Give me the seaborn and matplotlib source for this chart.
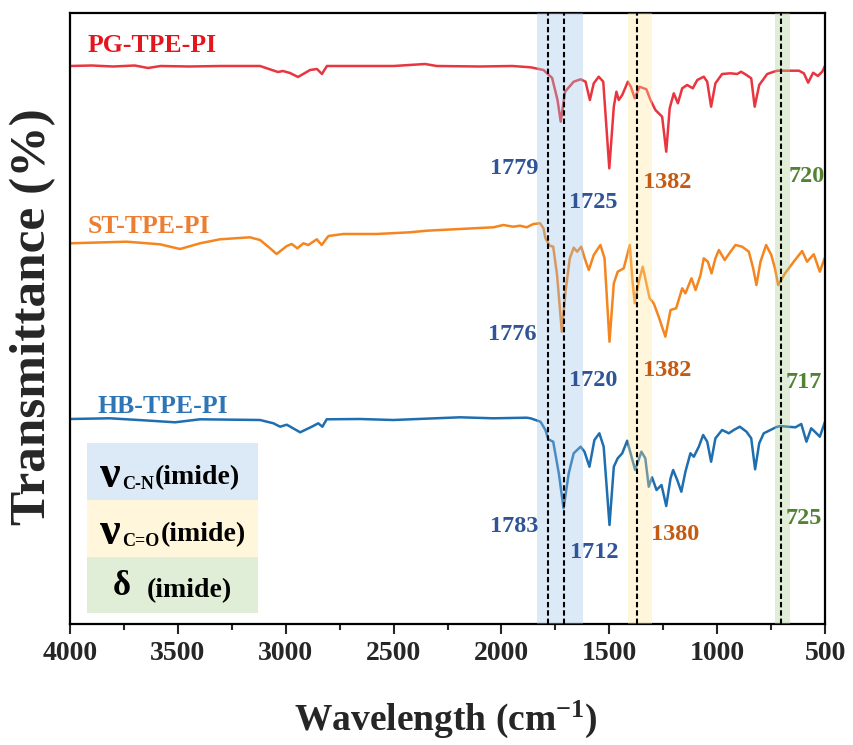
import numpy as np
import pandas as pd
import matplotlib
matplotlib.use("Agg")
import matplotlib.pyplot as plt
from matplotlib.patches import Rectangle
from matplotlib.ticker import MultipleLocator
import seaborn as sns

# ---------------- FTIR spectra (offset transmittance, a.u.) ----------------
pg_wn = [4000, 3900, 3800, 3700, 3638, 3580, 3450, 3300, 3119, 3036, 3013, 2980,
         2943, 2887, 2855, 2832, 2809, 2700, 2500, 2354, 2300, 2100, 1950, 1865,
         1805, 1765, 1740, 1725, 1705, 1665, 1633, 1610, 1590, 1572, 1549, 1528,
         1500, 1479, 1467, 1456, 1440, 1414, 1400, 1382, 1360, 1328, 1309, 1286,
         1255, 1236, 1220, 1201, 1182, 1162, 1139, 1113, 1092, 1062, 1046, 1028,
         1008, 977, 938, 907, 889, 864, 842, 826, 805, 768, 737, 720, 660, 621,
         598, 578, 555, 533, 513, 500]
pg_t = [558, 558.5, 557.5, 558.5, 556, 558, 557.5, 558, 558, 552, 553, 551,
        547, 554, 555, 550, 558, 558, 558, 560, 558, 557.5, 558, 556.7,
        554, 546, 524, 502.3, 532.3, 542.3, 544.7, 542.3, 524, 540.7, 547.3, 542.3,
        455.7, 517.3, 532.3, 524, 529, 542.3, 537.3, 525.7, 537.3, 534.7, 524, 514,
        507.3, 472.3, 515.7, 530.7, 520.7, 535.7, 539, 535.7, 544, 547.3, 542.3, 517.3,
        540.7, 550, 550.7, 550, 552.3, 549, 545.7, 517.3, 539, 550, 552.3, 553.3, 553.3, 553.3,
        550.7, 541.3, 551.3, 548, 552.3, 558]

st_wn = [4000, 3737, 3583, 3490, 3397, 3305, 3166, 3119, 3081, 3042, 2995, 2972,
         2946, 2918, 2895, 2856, 2833, 2802, 2733, 2578, 2424, 2346, 2192, 2037,
         1991, 1945, 1914, 1883, 1852, 1821, 1805, 1796, 1776, 1760, 1742, 1720,
         1703, 1683, 1665, 1649, 1630, 1614, 1595, 1572, 1541, 1522, 1499, 1479,
         1461, 1433, 1405, 1392, 1382, 1365, 1345, 1313, 1294, 1271, 1240, 1216,
         1190, 1162, 1147, 1119, 1100, 1077, 1062, 1043, 1026, 1008, 992, 965,
         938, 915, 884, 853, 833, 818, 799, 773, 749, 732, 717, 685, 645, 606,
         583, 552, 524, 502, 500]
st_t = [380.7, 382.3, 379.7, 375, 380.7, 384.7, 386.7, 384, 377.3, 370, 378, 380,
        375.7, 380.7, 379, 384.7, 379, 388, 390, 390, 391.7, 393.3, 395, 396.7,
        399, 397.3, 398.3, 396.7, 400, 400.7, 395.7, 385.7, 378.3, 377.3, 349, 292.3,
        332.3, 365.7, 376.3, 372.3, 377.3, 365.7, 354, 369, 379, 365.7, 282.3, 340.7,
        352.3, 355.7, 379, 342.3, 320.7, 340.7, 357.3, 325.7, 320.7, 307.3, 287.3, 314,
        315.7, 335.7, 330.7, 345.7, 334, 349, 365.7, 362.3, 350.7, 365.7, 374, 364,
        372.3, 379, 377.3, 372.3, 355.7, 339, 362.3, 379, 369, 355.7, 339, 350.7, 362.3, 373,
        362.3, 369.7, 352.3, 365.7, 366]

hb_wn = [4000, 3815, 3629, 3513, 3397, 3119, 3057, 3026, 2995, 2933, 2879, 2849,
         2830, 2810, 2656, 2501, 2192, 2037, 1883, 1865, 1819, 1796, 1783, 1760,
         1734, 1712, 1688, 1665, 1633, 1615, 1592, 1569, 1546, 1526, 1499, 1479,
         1461, 1440, 1417, 1397, 1380, 1351, 1333, 1317, 1302, 1281, 1258, 1236,
         1216, 1204, 1185, 1166, 1147, 1124, 1108, 1085, 1065, 1046, 1028, 1008,
         977, 946, 923, 895, 864, 842, 824, 805, 784, 753, 725, 706, 675, 637,
         610, 586, 564, 547, 524, 500]
hb_t = [205, 205.7, 203.3, 201.7, 204.7, 204, 200.7, 197.3, 199.3, 191.7, 197.3, 200.7,
        197.3, 204.7, 205, 204, 206.7, 205.7, 206.3, 205.7, 202.3, 194, 184.7, 182.3,
        150.7, 115.7, 150.7, 170.7, 177.3, 172.3, 157.3, 184, 190.7, 177.3, 99, 157.3,
        165.7, 170.7, 183.3, 167.3, 154, 172.3, 165.7, 137.3, 146.7, 134, 139, 118,
        145.7, 154, 144, 132.3, 152.3, 170.7, 167.3, 177.3, 189, 182.3, 162.3, 185.7,
        194, 190.7, 194, 197.3, 192.3, 185.7, 154.7, 180.7, 190.7, 194, 197, 198, 197.3, 196.7,
        200, 182.3, 195.7, 192.3, 187.3, 202.3]

samples = ["PG-TPE-PI", "ST-TPE-PI", "HB-TPE-PI"]
line_colors = {"PG-TPE-PI": "#E8353F", "ST-TPE-PI": "#F5851F", "HB-TPE-PI": "#1F6EB0"}
label_colors = {"PG-TPE-PI": "#E3161E", "ST-TPE-PI": "#ED7D31", "HB-TPE-PI": "#2E75B6"}

# reference positions of the imide bands
guide_lines = [1785, 1710, 1370, 703]
bands = [(1833, 1620), (1411, 1300), (733, 662)]
band_colors = ["#9BC2E6", "#FFE699", "#A9D08E"]

# peak annotations: (text, colour, x, y)
c_cn, c_co, c_d = "#2F5597", "#C55A11", "#548235"
peak_labels = [
    ("1779", c_cn, 1942, 456), ("1725", c_cn, 1575, 422),
    ("1382", c_co, 1232, 442), ("720", c_d, 583, 447),
    ("1776", c_cn, 1951, 289), ("1720", c_cn, 1575, 244),
    ("1382", c_co, 1232, 254), ("717", c_d, 597, 242),
    ("1783", c_cn, 1942, 97), ("1712", c_cn, 1571, 71),
    ("1380", c_co, 1195, 89), ("725", c_d, 597, 106),
]

df = pd.concat([
    pd.DataFrame({"wavenumber": pg_wn, "transmittance": pg_t, "sample": "PG-TPE-PI"}),
    pd.DataFrame({"wavenumber": st_wn, "transmittance": st_t, "sample": "ST-TPE-PI"}),
    pd.DataFrame({"wavenumber": hb_wn, "transmittance": hb_t, "sample": "HB-TPE-PI"}),
], ignore_index=True)

sns.set_style("ticks")
plt.rcParams["font.family"] = ["Liberation Serif", "DejaVu Serif"]
plt.rcParams["font.weight"] = "bold"
plt.rcParams["mathtext.fontset"] = "custom"
plt.rcParams["mathtext.rm"] = "Liberation Serif:bold"
plt.rcParams["mathtext.it"] = "Liberation Serif:bold"
plt.rcParams["mathtext.bf"] = "Liberation Serif:bold"

fig = plt.figure(figsize=(8.54, 7.45), dpi=100)
ax = fig.add_axes([70 / 854, 121 / 745, 755 / 854, 611 / 745])

sns.lineplot(data=df, x="wavenumber", y="transmittance", hue="sample",
             palette=line_colors, estimator=None, sort=False, lw=1.8,
             legend=False, ax=ax, zorder=2)

for (a, b), col in zip(bands, band_colors):
    ax.axvspan(a, b, color=col, alpha=0.35, lw=0, zorder=3)
for xv in guide_lines:
    ax.axvline(xv, color="black", lw=1.5, ls=(0, (2.6, 1.4)), zorder=4)

ax.set_xlim(4000, 500)
ax.set_ylim(0, 611)
ax.xaxis.set_major_locator(MultipleLocator(500))
ax.xaxis.set_minor_locator(MultipleLocator(250))
ax.set_yticks([])
ax.tick_params(axis="x", which="major", direction="out", length=7.5, width=1.5,
               labelsize=20, pad=5)
ax.tick_params(axis="x", which="minor", direction="out", length=4, width=1.5)
for lab in ax.get_xticklabels():
    lab.set_fontweight("bold")
for sp in ax.spines.values():
    sp.set_visible(True)
    sp.set_linewidth(1.6)
    sp.set_color("black")

ax.set_xlabel("")
ax.set_ylabel("")
fig.text(446 / 854, 1 - 719 / 745, "Wavelength (cm$^{-1}$)", fontsize=27,
         fontweight="bold", ha="center", va="center")
fig.text(33 / 854, 1 - 317 / 745, "Transmittance (%)", fontsize=37,
         fontweight="bold", ha="center", va="center", rotation=90)

# sample names
name_pos = {"PG-TPE-PI": (0.0238, 0.9476), "ST-TPE-PI": (0.0238, 0.6498),
            "HB-TPE-PI": (0.036, 0.356)}
for s in samples:
    x, y = name_pos[s]
    ax.text(x, y, s, transform=ax.transAxes, color=label_colors[s], fontsize=18.5,
            fontweight="bold", ha="left", va="center", zorder=5)

for txt, col, x, y in peak_labels:
    ax.text(x, y, txt, color=col, fontsize=17.5, fontweight="bold",
            ha="center", va="center", zorder=5)

# assignment key
rows = [(0.203, 0.093), (0.110, 0.093), (0.018, 0.092)]
for (y0, h), col in zip(rows, band_colors):
    ax.add_patch(Rectangle((0.0225, y0), 0.2265, h, transform=ax.transAxes,
                           color=col, alpha=0.35, lw=0, zorder=4))

kw = dict(transform=ax.transAxes, color="black", fontweight="bold", va="center", zorder=5)
ax.text(0.040, 0.242, "ν", fontsize=33, ha="left", **kw)
ax.text(0.0695, 0.2275, "C-N", fontsize=13, ha="left", **kw)
ax.text(0.1125, 0.240, "(imide)", fontsize=20, ha="left", **kw)
ax.text(0.040, 0.149, "ν", fontsize=33, ha="left", **kw)
ax.text(0.0695, 0.1345, "C=O", fontsize=13, ha="left", **kw)
ax.text(0.1205, 0.147, "(imide)", fontsize=20, ha="left", **kw)
ax.text(0.057, 0.061, "δ", fontsize=25, ha="left", **kw)
ax.text(0.102, 0.054, "(imide)", fontsize=20, ha="left", **kw)

fig.savefig("out.png", dpi=100)
